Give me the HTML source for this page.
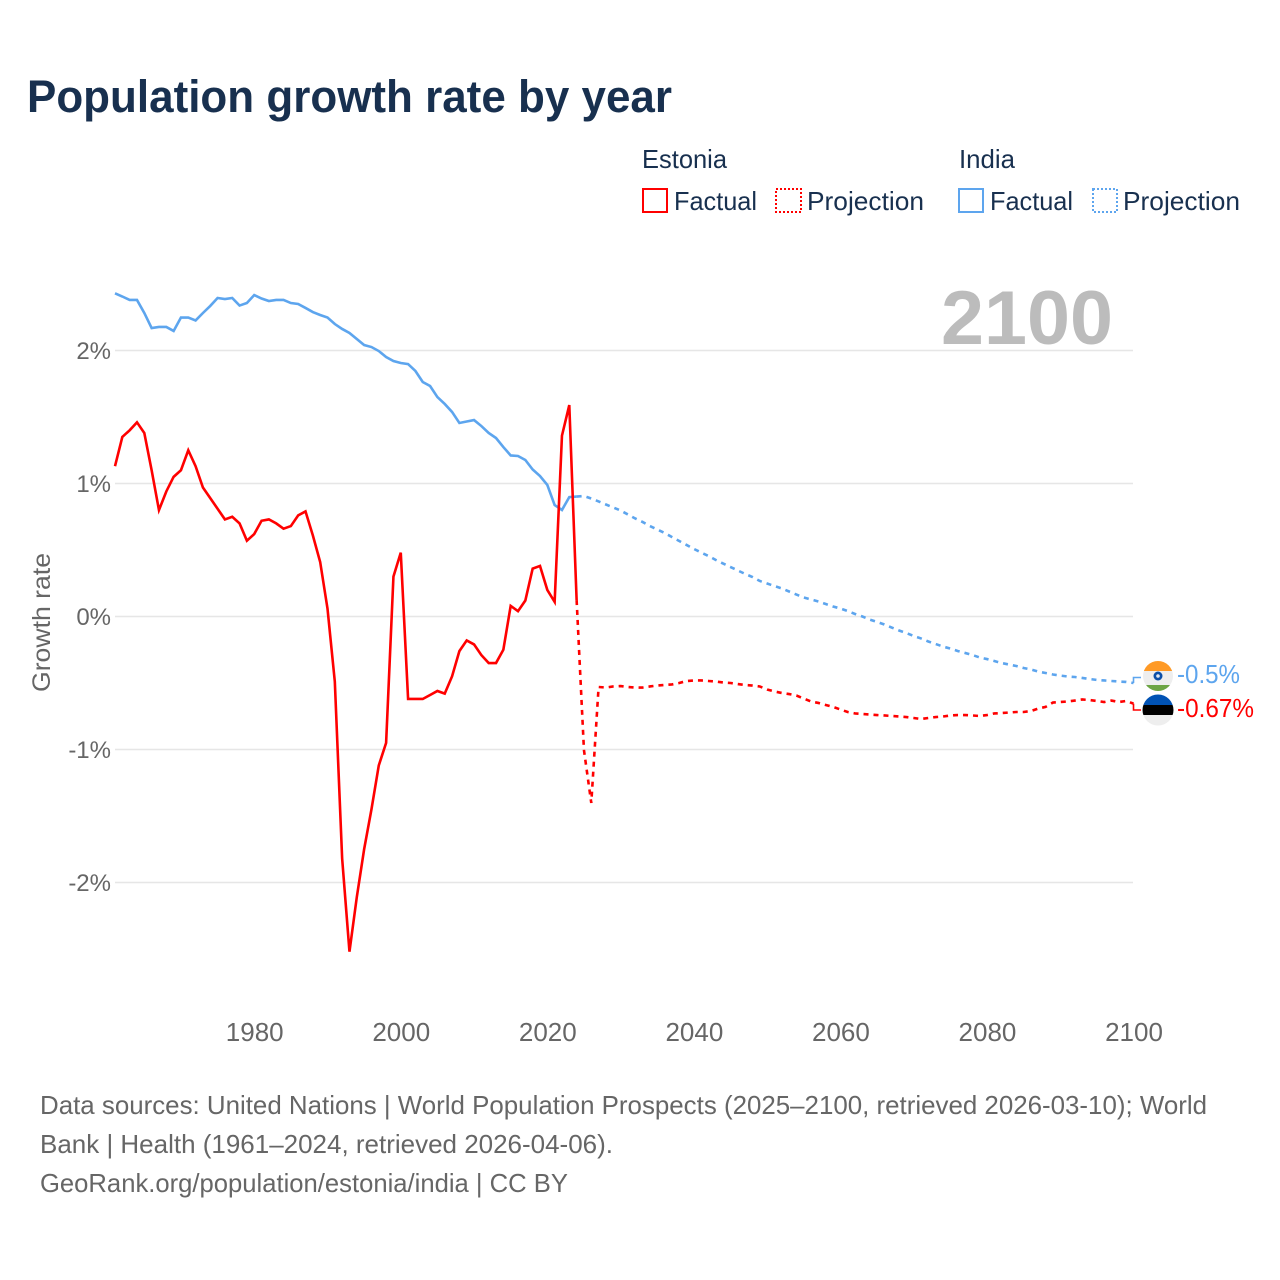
<!DOCTYPE html>
<html lang="en">
<head>
<meta charset="utf-8">
<title>Population growth rate by year</title>
<style>
html,body{margin:0;padding:0;background:#fff;}
svg{display:block;font-family:"Liberation Sans",Arial,sans-serif;}
</style>
</head>
<body>
<svg id="chart" xmlns="http://www.w3.org/2000/svg" width="1280" height="1280" viewBox="0 0 1280 1280">
<defs>
<clipPath id="clip-india"><circle cx="1158" cy="676" r="15"/></clipPath>
<clipPath id="clip-estonia"><circle cx="1158" cy="710" r="15.5"/></clipPath>
</defs>
<rect x="0" y="0" width="1280" height="1280" fill="#fff"/>
<text x="27" y="112" font-size="45" font-weight="700" fill="#18304f" textLength="645" lengthAdjust="spacingAndGlyphs">Population growth rate by year</text>

<g font-size="26" fill="#18304f">
<text x="642" y="168" textLength="85" lengthAdjust="spacingAndGlyphs">Estonia</text>
<text x="959" y="168" textLength="56" lengthAdjust="spacingAndGlyphs">India</text>
<rect x="643" y="189" width="24" height="23" fill="none" stroke="#ff0000" stroke-width="2"/>
<text x="674" y="210" textLength="83" lengthAdjust="spacingAndGlyphs">Factual</text>
<rect x="776" y="189" width="25" height="23" fill="none" stroke="#ff0000" stroke-width="2" stroke-dasharray="2 2"/>
<text x="807" y="210" textLength="117" lengthAdjust="spacingAndGlyphs">Projection</text>
<rect x="959" y="189" width="24" height="23" fill="none" stroke="#5da5ee" stroke-width="2"/>
<text x="990" y="210" textLength="83" lengthAdjust="spacingAndGlyphs">Factual</text>
<rect x="1093" y="189" width="24" height="23" fill="none" stroke="#5da5ee" stroke-width="2" stroke-dasharray="2 2"/>
<text x="1123" y="210" textLength="117" lengthAdjust="spacingAndGlyphs">Projection</text>
</g>

<g id="grid"></g>
<text x="941" y="344" font-size="76" font-weight="700" fill="#bcbcbc" textLength="172" lengthAdjust="spacingAndGlyphs">2100</text>
<g id="y-ticks" font-size="24" fill="#666"></g>
<g id="x-ticks" font-size="26" fill="#666"></g>
<text transform="translate(50,692) rotate(-90)" x="0" y="0" font-size="25" fill="#666" textLength="139" lengthAdjust="spacingAndGlyphs">Growth rate</text>
<g id="series"></g>

<g clip-path="url(#clip-india)">
<rect x="1142" y="660" width="32" height="11" fill="#ff9a26"/>
<rect x="1142" y="671" width="32" height="14" fill="#eeeeee"/>
<rect x="1142" y="685" width="32" height="8" fill="#6da544"/>
<circle cx="1158" cy="676" r="4.5" fill="#0b4fa8"/>
<circle cx="1158" cy="676" r="1.8" fill="#dfe8f2"/>
</g>
<g clip-path="url(#clip-estonia)">
<rect x="1142" y="694" width="32" height="11" fill="#0052b4"/>
<rect x="1142" y="705" width="32" height="10" fill="#000000"/>
<rect x="1142" y="715" width="32" height="12" fill="#eeeeee"/>
</g>
<g id="end-labels" font-size="26"></g>

<g font-size="26" fill="#666">
<text x="40" y="1114" textLength="1167" lengthAdjust="spacingAndGlyphs">Data sources: United Nations | World Population Prospects (2025–2100, retrieved 2026-03-10); World</text>
<text x="40" y="1153" textLength="573" lengthAdjust="spacingAndGlyphs">Bank | Health (1961–2024, retrieved 2026-04-06).</text>
<text x="40" y="1192" textLength="528" lengthAdjust="spacingAndGlyphs">GeoRank.org/population/estonia/india | CC BY</text>
</g>
</svg>
<script>
const factualStartYear = 1961;
const projectionStartYear = 2024;
const xTickYears = [1980, 2000, 2020, 2040, 2060, 2080, 2100];
const yTickValues = [2, 1, 0, -1, -2];
const yTickLabels = ["2%", "1%", "0%", "-1%", "-2%"];
const endLabelEstonia = "-0.67%";
const endLabelIndia = "-0.5%";

const estoniaFactual = [1.13,1.35,1.40,1.46,1.38,1.10,0.80,0.94,1.05,1.10,1.25,1.13,0.97,0.89,0.81,0.73,0.75,0.70,0.57,0.62,0.72,0.73,0.70,0.66,0.68,0.76,0.79,0.61,0.41,0.06,-0.49,-1.82,-2.52,-2.11,-1.75,-1.45,-1.12,-0.95,0.30,0.48,-0.62,-0.62,-0.62,-0.59,-0.56,-0.58,-0.45,-0.26,-0.18,-0.21,-0.29,-0.35,-0.35,-0.25,0.08,0.04,0.12,0.36,0.38,0.20,0.11,1.36,1.59,0.124];
const estoniaProjection = [0.124,-1.004,-1.402,-0.53,-0.534,-0.526,-0.523,-0.53,-0.534,-0.534,-0.526,-0.519,-0.515,-0.511,-0.5,-0.485,-0.481,-0.481,-0.485,-0.489,-0.496,-0.5,-0.508,-0.515,-0.519,-0.526,-0.549,-0.564,-0.575,-0.583,-0.594,-0.617,-0.639,-0.65,-0.665,-0.68,-0.699,-0.718,-0.729,-0.733,-0.737,-0.741,-0.744,-0.748,-0.752,-0.756,-0.763,-0.771,-0.763,-0.756,-0.752,-0.744,-0.741,-0.741,-0.744,-0.748,-0.741,-0.729,-0.726,-0.722,-0.718,-0.718,-0.711,-0.692,-0.68,-0.647,-0.643,-0.639,-0.632,-0.624,-0.628,-0.635,-0.643,-0.632,-0.643,-0.635,-0.655];
const indiaFactual = [2.43,2.406,2.38,2.38,2.282,2.169,2.177,2.177,2.147,2.248,2.248,2.226,2.282,2.335,2.395,2.387,2.395,2.338,2.357,2.417,2.391,2.372,2.38,2.38,2.357,2.35,2.32,2.289,2.267,2.248,2.199,2.162,2.132,2.086,2.041,2.026,1.996,1.951,1.921,1.906,1.898,1.846,1.763,1.733,1.65,1.598,1.538,1.455,1.466,1.477,1.432,1.38,1.342,1.274,1.211,1.207,1.177,1.105,1.056,0.989,0.838,0.801,0.898,0.902];
const indiaProjection = [0.902,0.906,0.887,0.865,0.842,0.82,0.797,0.767,0.737,0.711,0.68,0.654,0.628,0.598,0.568,0.538,0.508,0.481,0.455,0.425,0.398,0.372,0.346,0.32,0.297,0.267,0.248,0.229,0.211,0.188,0.165,0.143,0.128,0.113,0.094,0.075,0.06,0.041,0.019,0,-0.023,-0.041,-0.06,-0.083,-0.105,-0.124,-0.147,-0.165,-0.188,-0.207,-0.226,-0.241,-0.259,-0.274,-0.289,-0.308,-0.32,-0.335,-0.35,-0.361,-0.372,-0.387,-0.398,-0.414,-0.425,-0.436,-0.444,-0.451,-0.455,-0.462,-0.47,-0.477,-0.481,-0.485,-0.489,-0.492,-0.5];

const NS = "http://www.w3.org/2000/svg";
const xScale = function (year) { return 115 + (year - 1961) * (1133.5 - 115) / (2100 - 1961); };
const yScale = function (value) { return 616.5 - value * 133; };

const makeLinePath = function (startYear, values) {
  return values.map(function (v, i) {
    return (i === 0 ? "M" : "L") + xScale(startYear + i).toFixed(2) + " " + yScale(v).toFixed(2);
  }).join(" ");
};

const gridGroup = document.getElementById("grid");
const yTickGroup = document.getElementById("y-ticks");
yTickValues.forEach(function (v, i) {
  const line = document.createElementNS(NS, "line");
  
  
  line.setAttribute("x1", 115);
  line.setAttribute("x2", 1133);
  line.setAttribute("y1", yScale(v));
  line.setAttribute("y2", yScale(v));
  line.setAttribute("stroke", "#e6e6e6");
  line.setAttribute("stroke-width", "1.5");
  gridGroup.appendChild(line);
  const label = document.createElementNS(NS, "text");
  
  
  label.setAttribute("x", 111);
  label.setAttribute("y", yScale(v) + 8.5);
  label.setAttribute("text-anchor", "end");
  label.textContent = yTickLabels[i];
  yTickGroup.appendChild(label);
});

const xTickGroup = document.getElementById("x-ticks");
xTickYears.forEach(function (year) {
  const label = document.createElementNS(NS, "text");
  
  
  label.setAttribute("x", xScale(year) + 0.5);
  label.setAttribute("y", 1041);
  label.setAttribute("text-anchor", "middle");
  label.textContent = String(year);
  xTickGroup.appendChild(label);
});

const seriesGroup = document.getElementById("series");
const addLine = function (path, color, dashed, name) {
  const el = document.createElementNS(NS, "path");
  
  
  el.setAttribute("d", path);
  el.setAttribute("fill", "none");
  el.setAttribute("stroke", color);
  el.setAttribute("stroke-width", "2.6");
  el.setAttribute("stroke-linejoin", "miter");
  if (dashed) { el.setAttribute("stroke-dasharray", "5 5"); }
  seriesGroup.appendChild(el);
};
addLine(makeLinePath(factualStartYear, indiaFactual), "#5da5ee", false, "india-factual-line");
addLine(makeLinePath(projectionStartYear, indiaProjection), "#5da5ee", true, "india-projection-line");
addLine(makeLinePath(factualStartYear, estoniaFactual), "#ff0000", false, "estonia-factual-line");
addLine(makeLinePath(projectionStartYear, estoniaProjection), "#ff0000", true, "estonia-projection-line");

const addConnector = function (lastValue, labelY, color, name) {
  const el = document.createElementNS(NS, "path");
  
  
  el.setAttribute("d", "M" + xScale(2100) + " " + yScale(lastValue) + " V" + labelY + " H1141");
  el.setAttribute("fill", "none");
  el.setAttribute("stroke", color);
  el.setAttribute("stroke-width", "1.6");
  seriesGroup.appendChild(el);
};
addConnector(indiaProjection[indiaProjection.length - 1], 677.5, "#5da5ee", "india-label-connector");
addConnector(estoniaProjection[estoniaProjection.length - 1], 710, "#ff0000", "estonia-label-connector");

const endGroup = document.getElementById("end-labels");
const indiaEnd = document.createElementNS(NS, "text");


indiaEnd.setAttribute("x", 1177);
indiaEnd.setAttribute("y", 683);
indiaEnd.setAttribute("fill", "#5da5ee");
indiaEnd.setAttribute("textLength", 63);
indiaEnd.setAttribute("lengthAdjust", "spacingAndGlyphs");
indiaEnd.textContent = endLabelIndia;
endGroup.appendChild(indiaEnd);
const estoniaEnd = document.createElementNS(NS, "text");


estoniaEnd.setAttribute("x", 1177);
estoniaEnd.setAttribute("y", 717);
estoniaEnd.setAttribute("fill", "#ff0000");
estoniaEnd.setAttribute("textLength", 77);
estoniaEnd.setAttribute("lengthAdjust", "spacingAndGlyphs");
estoniaEnd.textContent = endLabelEstonia;
endGroup.appendChild(estoniaEnd);
</script>
</body>
</html>
